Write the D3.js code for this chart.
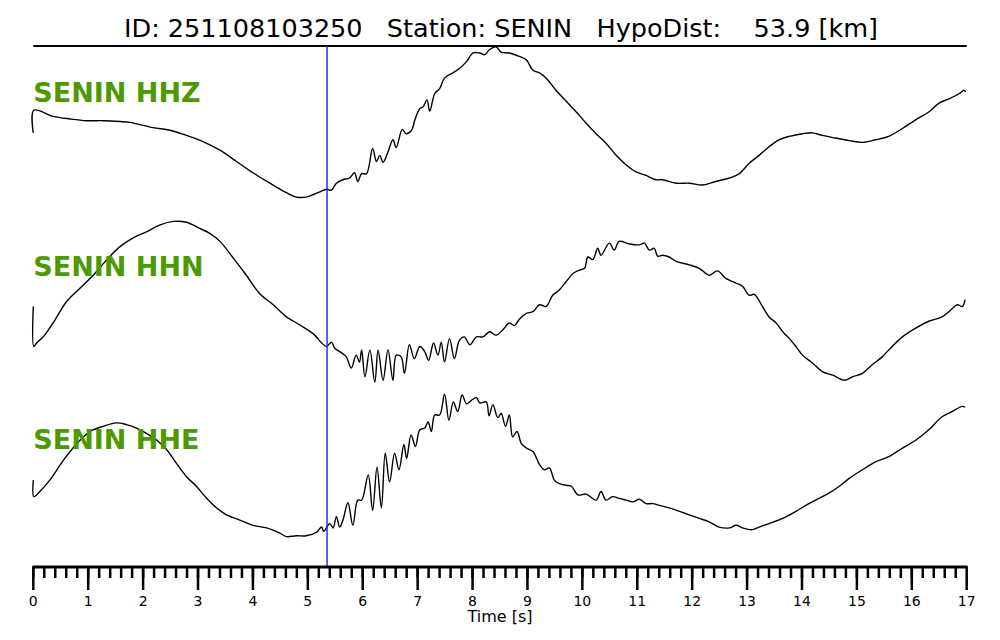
<!DOCTYPE html>
<html>
<head>
<meta charset="utf-8">
<script src="https://cdn.jsdelivr.net/npm/d3@7.9.0/dist/d3.min.js"></script>
<style>
  body { margin: 0; background: #fff; }
  svg text { font-family: "DejaVu Sans", sans-serif; }
</style>
</head>
<body>
<svg id="chart" width="1000" height="640"></svg>
<script>
// event info
const eventId = '251108103250';
const station = 'SENIN';
const hypoDist = 53.9;
const pickTime = 5.35; // blue marker [s]

const channels = ['HHZ', 'HHN', 'HHE'];

// normalised traces (time [s], amplitude)
const hhzTime = [0, 0.01, 0.36, 0.67, 0.97, 1.27, 1.58, 1.76, 2.18, 2.49, 2.79, 3.09, 3.40, 3.70, 4.00, 4.31, 4.61, 4.79, 4.97, 5.22, 5.34, 5.43, 5.52, 5.64, 5.76, 5.85, 5.91, 5.98, 6.07, 6.18, 6.25, 6.31, 6.37, 6.46, 6.55, 6.61, 6.72, 6.79, 6.89, 6.95, 7.04, 7.10, 7.17, 7.22, 7.31, 7.40, 7.49, 7.64, 7.76, 7.89, 8.01, 8.13, 8.22, 8.31, 8.43, 8.52, 8.67, 8.85, 8.98, 9.10, 9.22, 9.34, 9.52, 9.71, 9.89, 10.07, 10.25, 10.43, 10.62, 10.80, 10.98, 11.16, 11.34, 11.46, 11.71, 11.95, 12.19, 12.43, 12.68, 12.86, 13.04, 13.22, 13.40, 13.58, 13.77, 14.01, 14.19, 14.37, 14.61, 14.86, 15.10, 15.34, 15.58, 15.83, 16.07, 16.31, 16.49, 16.67, 16.86, 16.95, 16.98];
const hhzAmp = [0, 0.26, 0.19, 0.16, 0.14, 0.14, 0.13, 0.12, 0.06, 0.03, -0.03, -0.10, -0.20, -0.33, -0.46, -0.58, -0.69, -0.74, -0.74, -0.68, -0.65, -0.66, -0.58, -0.54, -0.52, -0.46, -0.56, -0.47, -0.47, -0.18, -0.33, -0.26, -0.34, -0.22, -0.08, -0.17, 0.04, -0.01, 0.03, 0.15, 0.28, 0.30, 0.38, 0.25, 0.45, 0.51, 0.63, 0.69, 0.74, 0.82, 0.92, 0.92, 0.90, 0.96, 0.99, 0.93, 0.92, 0.88, 0.84, 0.72, 0.69, 0.63, 0.49, 0.36, 0.24, 0.11, -0.01, -0.12, -0.26, -0.37, -0.45, -0.49, -0.54, -0.54, -0.58, -0.58, -0.60, -0.56, -0.52, -0.47, -0.35, -0.26, -0.16, -0.08, -0.04, -0.01, 0.00, -0.03, -0.06, -0.09, -0.11, -0.08, -0.04, 0.05, 0.15, 0.24, 0.34, 0.39, 0.45, 0.49, 0.47];

const hhnTime = [0, 0.01, 0.06, 0.18, 0.36, 0.61, 0.85, 1.09, 1.34, 1.58, 1.82, 2.06, 2.31, 2.55, 2.79, 3.03, 3.22, 3.40, 3.64, 3.88, 4.12, 4.37, 4.61, 4.85, 5.09, 5.34, 5.43, 5.49, 5.58, 5.70, 5.79, 5.88, 5.94, 5.98, 6.04, 6.13, 6.22, 6.28, 6.37, 6.46, 6.55, 6.61, 6.70, 6.76, 6.85, 6.94, 7.04, 7.13, 7.20, 7.29, 7.37, 7.43, 7.49, 7.58, 7.67, 7.76, 7.85, 7.95, 8.07, 8.19, 8.31, 8.43, 8.55, 8.67, 8.76, 8.86, 8.98, 9.10, 9.22, 9.34, 9.46, 9.58, 9.71, 9.83, 9.95, 10.04, 10.10, 10.19, 10.28, 10.34, 10.49, 10.58, 10.67, 10.86, 11.04, 11.13, 11.22, 11.31, 11.37, 11.46, 11.58, 11.71, 11.95, 12.13, 12.31, 12.46, 12.62, 12.80, 12.92, 13.04, 13.13, 13.28, 13.40, 13.53, 13.65, 13.77, 13.89, 14.01, 14.19, 14.37, 14.56, 14.77, 14.92, 15.10, 15.28, 15.46, 15.58, 15.83, 16.07, 16.31, 16.55, 16.71, 16.83, 16.92, 16.97];
const hhnAmp = [0, -0.46, -0.42, -0.35, -0.19, 0.06, 0.21, 0.36, 0.54, 0.69, 0.79, 0.86, 0.94, 0.98, 0.97, 0.90, 0.84, 0.75, 0.56, 0.36, 0.15, 0.02, -0.12, -0.21, -0.31, -0.46, -0.41, -0.48, -0.52, -0.58, -0.71, -0.56, -0.64, -0.50, -0.81, -0.50, -0.87, -0.50, -0.85, -0.50, -0.85, -0.56, -0.58, -0.77, -0.44, -0.60, -0.46, -0.52, -0.62, -0.42, -0.56, -0.41, -0.64, -0.37, -0.60, -0.39, -0.35, -0.44, -0.35, -0.35, -0.29, -0.33, -0.27, -0.19, -0.22, -0.14, -0.08, -0.06, 0.02, 0.00, 0.13, 0.19, 0.29, 0.38, 0.42, 0.44, 0.57, 0.54, 0.67, 0.59, 0.73, 0.65, 0.75, 0.72, 0.71, 0.73, 0.65, 0.67, 0.58, 0.59, 0.57, 0.52, 0.48, 0.44, 0.36, 0.41, 0.32, 0.27, 0.23, 0.13, 0.14, 0.00, -0.12, -0.19, -0.29, -0.37, -0.46, -0.56, -0.65, -0.75, -0.79, -0.85, -0.81, -0.77, -0.67, -0.58, -0.50, -0.35, -0.25, -0.17, -0.12, -0.04, 0.02, 0.00, 0.08];

const hheTime = [0, 0.01, 0.12, 0.30, 0.55, 0.79, 1.03, 1.27, 1.52, 1.70, 1.88, 2.06, 2.25, 2.43, 2.61, 2.79, 2.97, 3.16, 3.34, 3.52, 3.76, 4.00, 4.25, 4.49, 4.61, 4.79, 4.97, 5.16, 5.25, 5.29, 5.40, 5.46, 5.52, 5.58, 5.64, 5.73, 5.82, 5.91, 5.98, 6.10, 6.18, 6.26, 6.34, 6.41, 6.49, 6.58, 6.66, 6.75, 6.80, 6.88, 6.96, 7.04, 7.13, 7.19, 7.25, 7.31, 7.40, 7.49, 7.57, 7.65, 7.73, 7.81, 7.89, 7.98, 8.07, 8.13, 8.25, 8.30, 8.37, 8.46, 8.52, 8.60, 8.67, 8.73, 8.81, 8.89, 8.98, 9.10, 9.22, 9.31, 9.40, 9.49, 9.58, 9.71, 9.80, 9.92, 10.07, 10.25, 10.34, 10.43, 10.55, 10.67, 10.80, 10.92, 11.04, 11.16, 11.28, 11.40, 11.58, 11.77, 11.95, 12.13, 12.31, 12.49, 12.68, 12.80, 12.92, 13.10, 13.22, 13.40, 13.65, 13.89, 14.07, 14.25, 14.49, 14.68, 14.86, 15.10, 15.34, 15.58, 15.83, 16.07, 16.31, 16.55, 16.73, 16.92, 16.97];
const hheAmp = [0, -0.19, -0.13, 0.00, 0.23, 0.42, 0.56, 0.62, 0.66, 0.64, 0.60, 0.54, 0.46, 0.35, 0.19, 0.04, -0.07, -0.21, -0.32, -0.40, -0.46, -0.52, -0.55, -0.61, -0.65, -0.64, -0.64, -0.60, -0.54, -0.59, -0.50, -0.55, -0.42, -0.54, -0.46, -0.26, -0.52, -0.23, -0.23, 0.06, -0.35, 0.15, -0.32, 0.31, -0.02, 0.31, 0.12, 0.41, 0.25, 0.52, 0.39, 0.58, 0.60, 0.67, 0.56, 0.75, 0.75, 0.99, 0.69, 0.90, 0.79, 0.98, 0.88, 0.92, 0.95, 0.89, 0.90, 0.74, 0.87, 0.72, 0.77, 0.62, 0.75, 0.50, 0.56, 0.42, 0.37, 0.33, 0.18, 0.12, 0.14, 0.00, -0.04, -0.06, -0.07, -0.17, -0.16, -0.23, -0.13, -0.23, -0.19, -0.21, -0.23, -0.25, -0.22, -0.27, -0.27, -0.29, -0.32, -0.36, -0.40, -0.44, -0.48, -0.54, -0.55, -0.52, -0.55, -0.57, -0.54, -0.50, -0.44, -0.36, -0.29, -0.23, -0.15, -0.07, 0.02, 0.12, 0.21, 0.27, 0.37, 0.46, 0.58, 0.73, 0.79, 0.85, 0.84];

const traces = [
  { name: channels[0], time: hhzTime, amp: hhzAmp },
  { name: channels[1], time: hhnTime, amp: hhnAmp },
  { name: channels[2], time: hheTime, amp: hheAmp },
];

const tMax = 17;
const majorTicks = d3.range(0, 18, 1);
const minorTicks = d3.range(0, 85, 1).map(i => i / 5);

const svg = d3.select('#chart');
const plotLeft = 33.3, plotRight = 966.7, plotTop = 46, plotBottom = 567;
const band = (plotBottom - plotTop) / traces.length;

const x = d3.scaleLinear().domain([0, tMax]).range([plotLeft, plotRight]);

// title
svg.append('text')
  .attr('x', 501)
  .attr('y', 37)
  .attr('text-anchor', 'middle')
  .attr('font-size', 25.5)
  .style('white-space', 'pre')
  .attr('xml:space', 'preserve')
  .text(`ID: ${eventId}   Station: ${station}   HypoDist:    ${hypoDist.toFixed(1)} [km]`);

// top border
svg.append('line')
  .attr('x1', plotLeft).attr('x2', plotRight)
  .attr('y1', plotTop).attr('y2', plotTop)
  .attr('stroke', '#000').attr('stroke-width', 2);

traces.forEach((tr, i) => {
  const c = plotTop + band * (i + 0.5);
  const y = d3.scaleLinear().domain([-1, 1]).range([c + band / 2, c - band / 2]);
  const line = d3.line()
    .x((d, k) => x(tr.time[k]))
    .y(d => y(d))
    .curve(d3.curveCatmullRom.alpha(0.5));

  svg.append('path')
    .attr('d', line(tr.amp))
    .attr('fill', 'none')
    .attr('stroke', '#000')
    .attr('stroke-width', 1.4)
    .attr('stroke-linejoin', 'round');

  svg.append('text')
    .attr('x', plotLeft)
    .attr('y', c - 31)
    .attr('font-size', 27)
    .attr('font-weight', 'bold')
    .attr('fill', '#4c9a00')
    .text(`${station} ${tr.name}`);
});

// pick marker
svg.append('line')
  .attr('x1', x(pickTime)).attr('x2', x(pickTime))
  .attr('y1', plotTop).attr('y2', plotBottom)
  .attr('stroke', '#2222dd').attr('stroke-width', 1.4);

// time axis
const axis = svg.append('g');
axis.append('line')
  .attr('x1', plotLeft - 1).attr('x2', plotRight + 1)
  .attr('y1', plotBottom).attr('y2', plotBottom)
  .attr('stroke', '#000').attr('stroke-width', 3);

axis.selectAll('.minor')
  .data(minorTicks)
  .join('line')
  .attr('x1', d => x(d)).attr('x2', d => x(d))
  .attr('y1', plotBottom).attr('y2', plotBottom + 11)
  .attr('stroke', '#000').attr('stroke-width', 2.5);

axis.selectAll('.major')
  .data(majorTicks)
  .join('line')
  .attr('x1', d => x(d)).attr('x2', d => x(d))
  .attr('y1', plotBottom).attr('y2', plotBottom + 23)
  .attr('stroke', '#000').attr('stroke-width', 2.5);

axis.selectAll('.lab')
  .data(majorTicks)
  .join('text')
  .attr('x', d => x(d))
  .attr('y', 606)
  .attr('text-anchor', 'middle')
  .attr('font-size', 14)
  .text(d => d);

svg.append('text')
  .attr('x', 500)
  .attr('y', 622)
  .attr('text-anchor', 'middle')
  .attr('font-size', 16)
  .text('Time [s]');
</script>
</body>
</html>
